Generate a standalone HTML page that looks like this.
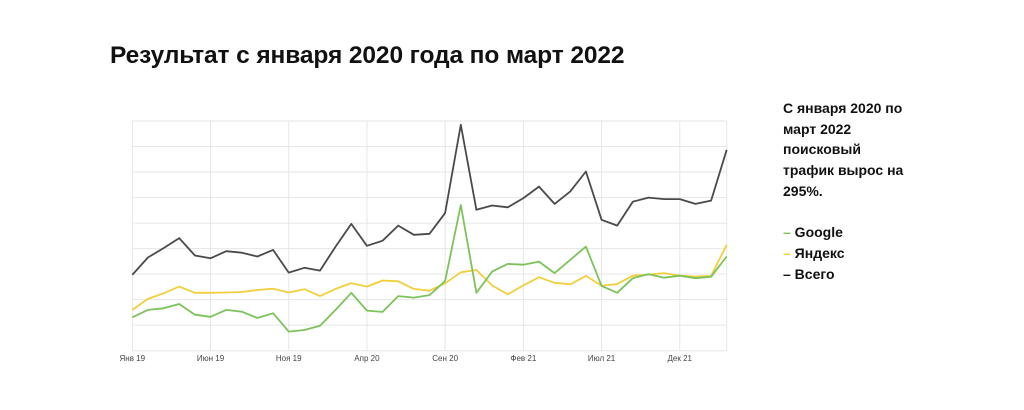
<!DOCTYPE html>
<html><head><meta charset="utf-8"><style>
body{margin:0;width:1024px;height:410px;background:#fff;overflow:hidden;font-family:"Liberation Sans",sans-serif;position:relative}
#title{position:absolute;left:110px;top:42px;font-size:24.5px;font-weight:bold;color:#111;margin:0;letter-spacing:-0.1px}
#side{position:absolute;left:783px;top:98px;font-size:14px;line-height:20.7px;color:#111;width:160px;font-weight:600}
svg{position:absolute;left:0;top:0}
</style></head><body>
<h1 id="title">Результат с января 2020 года по март 2022</h1>
<div id="side">
<div>С января 2020 по<br>март 2022<br>поисковый<br>трафик вырос на<br>295%.</div>
<div style="height:20.7px"></div>
<div><span style="color:#7cc35a">–</span> Google</div>
<div><span style="color:#f2cf3c">–</span> Яндекс</div>
<div><span style="color:#111">–</span> Всего</div>
</div>
<svg id="chart" width="1024" height="410"></svg>
<script>
const tickLabels=["Янв 19","Июн 19","Ноя 19","Апр 20","Сен 20","Фев 21","Июл 21","Дек 21"];
const totalVals=[29.7,36.5,40.2,44.1,37.3,36.2,39.0,38.4,36.9,39.5,30.6,32.5,31.4,40.8,49.7,41.1,43.1,49.0,45.4,45.8,53.9,88.5,55.2,56.9,56.2,59.8,64.3,57.5,62.4,70.2,51.3,49.0,58.4,60.0,59.4,59.4,57.5,58.8,78.7];
const yandexVals=[16.0,20.3,22.5,25.1,22.7,22.7,22.8,23.0,23.8,24.3,22.8,24.1,21.4,24.2,26.5,25.1,27.5,27.2,24.2,23.5,26.4,30.7,31.6,25.6,22.1,25.6,28.8,26.6,26.0,29.3,25.5,26.1,29.4,29.8,30.4,29.4,29.0,29.3,41.5];
const googleVals=[13.1,16.0,16.6,18.3,14.1,13.3,16.0,15.3,12.8,14.7,7.5,8.1,9.8,16.0,22.7,15.7,15.2,21.4,20.8,21.8,27.3,57.1,22.7,31.0,34.0,33.7,34.9,30.4,35.6,40.8,25.4,22.7,28.4,30.0,28.6,29.4,28.4,29.0,36.9];
const yMax=90,gridStep=10;
const X0=132.3,X1=726.7,Y0=350.7,Y1=121;
const n=totalVals.length;
const xs=i=>X0+(X1-X0)*i/(n-1);
const ys=v=>Y0-(Y0-Y1)*v/yMax;
const svg=document.getElementById('chart');
const NS='http://www.w3.org/2000/svg';
function mk(t,a){const e=document.createElementNS(NS,t);for(const k in a)e.setAttribute(k,a[k]);svg.appendChild(e);return e;}
for(let v=0;v<=yMax;v+=gridStep){
 const l=mk('line',{x1:X0,x2:X1,y1:ys(v),y2:ys(v),stroke:'#e6e6e6','stroke-width':1});
 
 
}
tickLabels.forEach((t,k)=>{
 const x=xs(k*5);
 const l=mk('line',{x1:x,x2:x,y1:Y1,y2:Y0,stroke:'#e6e6e6','stroke-width':1});
 
 
 const tx=mk('text',{x:x,y:361,'text-anchor':'middle','font-size':'8','fill':'#444','font-family':'Liberation Sans, sans-serif'});
 tx.textContent=t;
 
 
});
const rl=mk('line',{x1:X1,x2:X1,y1:Y1,y2:Y0,stroke:'#e6e6e6'});


function series(vals,color,name){
 const p=mk('polyline',{points:vals.map((v,i)=>xs(i).toFixed(1)+','+ys(v).toFixed(1)).join(' '),fill:'none',stroke:color,'stroke-width':1.8,'stroke-linejoin':'round'});
 
 
}
series(yandexVals,'#f2cf3c','yandex-line');
series(googleVals,'#7cc35a','google-line');
series(totalVals,'#4a4a4a','total-line');
</script>
</body></html>
